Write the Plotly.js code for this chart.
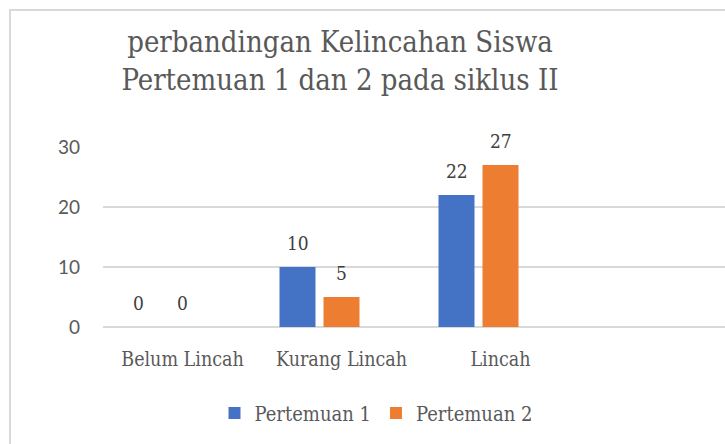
<!DOCTYPE html>
<html>
<head>
<meta charset="utf-8">
<script src="https://cdn.plot.ly/plotly-3.0.1.min.js"></script>
<style>
html,body{margin:0;padding:0;background:#fff;overflow:hidden;}
#chart{width:725px;height:444px;}
</style>
</head>
<body>
<div id="chart"></div>
<script>
const categories = ["Belum Lincah", "Kurang Lincah", "Lincah"];
const pertemuan1 = [0, 10, 22];
const pertemuan2 = [0, 5, 27];
const seriesNames = ["Pertemuan 1", "Pertemuan 2"];
const yTicks = [0, 10, 20, 30];
const titleText = "perbandingan Kelincahan Siswa<br>Pertemuan 1 dan 2 pada siklus II";

const serif = "'DejaVu Serif Condensed', 'Liberation Serif', serif";
const sans = "Lato, 'Liberation Sans', sans-serif";
const barColors = ["#4472C4", "#ED7D31"];
const barWidth = 36 / 159;
const offsets = [(-44 - 18) / 159, -18 / 159];
const shifts = [-44, 0];
const allSeries = [pertemuan1, pertemuan2];

const traces = allSeries.map((vals, i) => ({
  type: "bar",
  name: seriesNames[i],
  x: categories,
  y: vals,
  width: barWidth,
  offset: offsets[i],
  marker: {color: barColors[i], line: {width: 0}},
  hoverinfo: "x+y+name"
}));

const annotations = [];
allSeries.forEach((vals, i) => {
  vals.forEach((v, j) => {
    annotations.push({
      x: categories[j], y: v, xref: "x", yref: "y",
      text: String(v), showarrow: false,
      xshift: shifts[i], yshift: 24, yanchor: "middle", xanchor: "center",
      font: {family: serif, size: 19, color: "#404040"}
    });
  });
});

const layout = {
  width: 725, height: 444,
  margin: {l: 103, r: 0, t: 147, b: 117},
  paper_bgcolor: "#ffffff",
  plot_bgcolor: "#ffffff",
  title: {
    text: titleText,
    x: 340 / 725, xref: "container", xanchor: "center",
    y: 1 - 52 / 444, yref: "container", yanchor: "top",
    font: {family: serif, size: 29, color: "#595959"}
  },
  xaxis: {
    type: "category",
    range: [-0.5, -0.5 + 622 / 159],
    showgrid: false, zeroline: false, showline: false,
    ticks: "",
    ticklabelstandoff: 18,
    tickfont: {family: serif, size: 19.5, color: "#595959"},
    fixedrange: true
  },
  yaxis: {
    range: [0, 30],
    tickvals: yTicks,
    showgrid: true, gridcolor: "#d9d9d9", gridwidth: 1.3,
    zeroline: true, zerolinecolor: "#d9d9d9", zerolinewidth: 1.3,
    showline: false, ticks: "",
    ticklabelstandoff: 22,
    tickfont: {family: sans, size: 19, color: "#595959"},
    fixedrange: true
  },
  showlegend: true,
  legend: {
    orientation: "h",
    xref: "container", yref: "container",
    x: 376 / 725, xanchor: "center",
    y: 1 - 413 / 444, yanchor: "middle",
    font: {family: serif, size: 20, color: "#595959"},
    itemwidth: 30, tracegroupgap: 0,
    bgcolor: "rgba(0,0,0,0)"
  },
  annotations: annotations
};

Plotly.newPlot("chart", traces, layout, {displayModeBar: false, staticPlot: true}).then(() => {
  const svg = document.querySelector("#chart .main-svg");
  const ns = "http://www.w3.org/2000/svg";
  const g = document.createElementNS(ns, "path");
  g.setAttribute("d", "M 10 444 L 10 10 L 725 10");
  g.setAttribute("fill", "none");
  g.setAttribute("stroke", "#d9d9d9");
  g.setAttribute("stroke-width", "2");
  svg.appendChild(g);
});
</script>
</body>
</html>
